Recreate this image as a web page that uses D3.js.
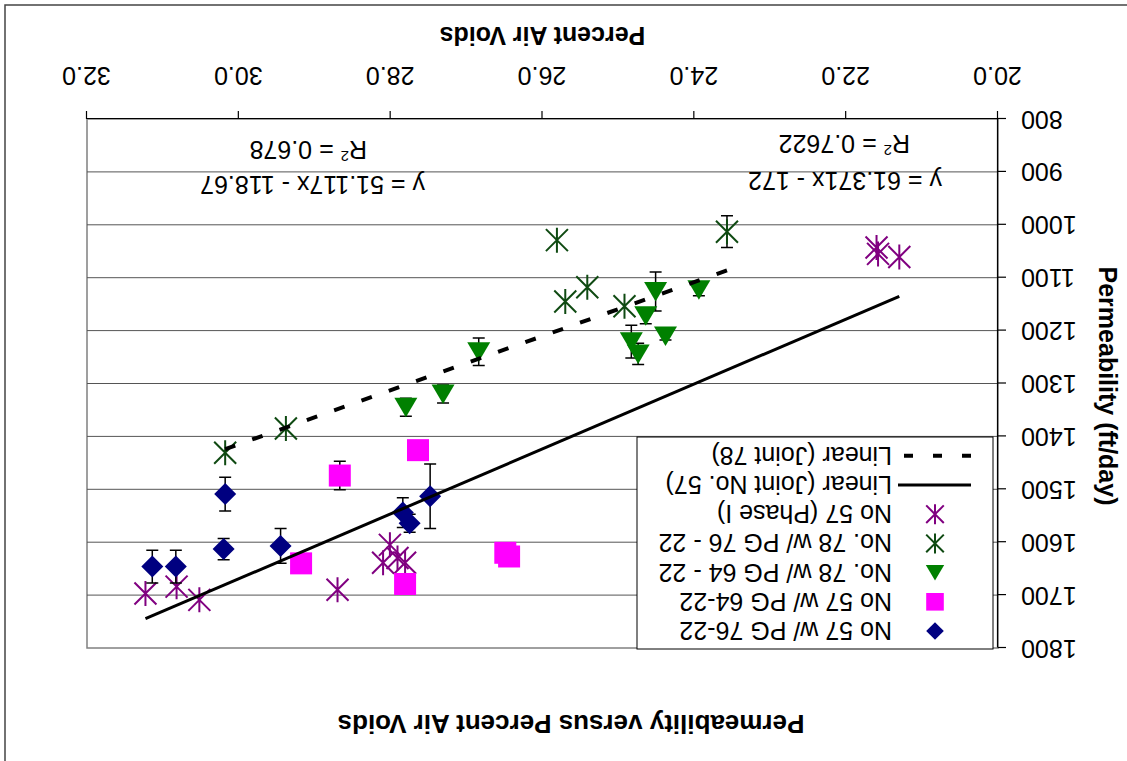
<!DOCTYPE html>
<html><head><meta charset="utf-8">
<script src="https://cdn.jsdelivr.net/npm/d3@7"></script>
<style>html,body{margin:0;padding:0;background:#fff;} svg{display:block;font-family:"Liberation Sans",Arial,sans-serif;}</style>
</head><body><svg id="chart" width="1127" height="761"></svg>
<script>
// ---------- data ----------
const xTicks = [20, 22, 24, 26, 28, 30, 32];
const yTicks = [800, 900, 1000, 1100, 1200, 1300, 1400, 1500, 1600, 1700, 1800];
const legendNames = ["No 57 w/ PG 76-22", "No 57 w/ PG 64-22", "No. 78 w/ PG 64 - 22", "No. 78 w/ PG 76 - 22", "No 57 (Phase I)", "Linear (Joint No. 57)", "Linear (Joint 78)"];

const s1X = [31.14, 30.83, 30.18, 30.20, 29.45, 27.84, 27.75, 27.48];
const s1Y = [1646, 1646, 1509, 1613, 1607, 1544, 1564, 1513];
const s1E = [31, 31, 32, 20, 33, 28, 17, 61];

const s2X = [29.18, 28.67, 27.64, 27.81, 26.49, 26.44];
const s2Y = [1640, 1474, 1426, 1679, 1620, 1627];
const s2E = [0, 27, 0, 0, 0, 0];

const s3X = [26.84, 24.51, 23.94, 24.64, 24.83, 24.74, 24.38, 27.80, 27.31];
const s3Y = [1240, 1126, 1123, 1172, 1221, 1244, 1210, 1345, 1320];
const s3E = [26, 37, 11, 15, 31, 20, 8, 17, 17];

const s4X = [30.18, 29.38, 25.81, 25.70, 25.41, 24.92, 23.57];
const s4Y = [1431, 1385, 1029, 1145, 1118, 1154, 1013];
const s4E = [0, 0, 0, 0, 0, 0, 30];

const s5X = [31.23, 30.82, 30.52, 28.70, 28.01, 28.10, 27.91, 27.81, 21.60, 21.58, 21.30];
const s5Y = [1697, 1684, 1709, 1690, 1605, 1639, 1630, 1639, 1043, 1055, 1061];
const s5E = [0, 0, 0, 0, 0, 0, 0, 0, 0, 0, 0];

const trend57 = [61.371, -172];     // slope, intercept (Joint No. 57)
const trend78 = [51.117, -118.67];  // slope, intercept (Joint 78)
const eqText = ["y = 61.371x - 172", "y = 51.117x - 118.67"];
const r2Text = ["0.7622", "0.678"];

// ---------- layout ----------
const W = 1127, H = 761;
const x = d3.scaleLinear().domain([20, 32]).range([129, 1040]);
const y = d3.scaleLinear().domain([800, 1800]).range([642, 113]);

const svg = d3.select("#chart");
svg.append("rect").attr("width", W).attr("height", H).attr("fill", "#fff");
const g = svg.append("g").attr("transform", `rotate(180 ${W/2} ${H/2})`);

// outer chart border
g.append("rect").attr("x", -3).attr("y", -3).attr("width", 1125).attr("height", 759)
  .attr("fill", "none").attr("stroke", "#444").attr("stroke-width", 1.5);

// plot area
g.append("rect").attr("x", x(20)).attr("y", y(1800)).attr("width", x(32) - x(20)).attr("height", y(800) - y(1800))
  .attr("fill", "#fff").attr("stroke", "#808080").attr("stroke-width", 1.5);

g.append("g").selectAll("line").data(yTicks.filter(v => v > 800 && v < 1800)).join("line")
  .attr("x1", x(20)).attr("x2", x(32)).attr("y1", d => y(d)).attr("y2", d => y(d))
  .attr("stroke", "#555").attr("stroke-width", 1);

// axes
const xAxis = d3.axisBottom(x).tickValues(xTicks).tickFormat(d3.format(".1f")).tickSize(8).tickSizeOuter(0).tickPadding(26);
const gx = g.append("g").attr("transform", `translate(0,${y(800)})`).call(xAxis);
const yAxis = d3.axisLeft(y).tickValues(yTicks).tickFormat(d3.format("d")).tickSize(8).tickSizeOuter(0).tickPadding(15);
const gy = g.append("g").attr("transform", `translate(${x(20)},0)`).call(yAxis);
[gx, gy].forEach(a => {
  a.attr("font-size", 25).attr("font-family", '"Liberation Sans", Arial, sans-serif');
  a.selectAll("path,line").attr("stroke", "#000").attr("stroke-width", 1.2);
  a.selectAll("text").attr("fill", "#000");
});

// ---------- markers ----------
function drawMarker(sel, shape, color, s) {
  if (shape === "diamond") {
    sel.append("path").attr("d", `M0,${-11*s}L${11*s},0L0,${11*s}L${-11*s},0Z`).attr("fill", color);
  } else if (shape === "square") {
    sel.append("rect").attr("x", -11*s).attr("y", -11*s).attr("width", 22*s).attr("height", 22*s).attr("fill", color);
  } else if (shape === "triangle") {
    sel.append("path").attr("d", `M${-11.5*s},${9.5*s}L${11.5*s},${9.5*s}L0,${-10*s}Z`).attr("fill", color);
  } else if (shape === "star") {
    sel.append("path").attr("d", `M${-11*s},${-11*s}L${11*s},${11*s}M${-11*s},${11*s}L${11*s},${-11*s}M0,${-12.5*s}L0,${12.5*s}`)
      .attr("stroke", color).attr("stroke-width", 2).attr("fill", "none");
  }
}

const series = [
  {xs: s1X, ys: s1Y, es: s1E, shape: "diamond", color: "#000080"},
  {xs: s2X, ys: s2Y, es: s2E, shape: "square", color: "#FF00FF"},
  {xs: s3X, ys: s3Y, es: s3E, shape: "triangle", color: "#008000"},
  {xs: s4X, ys: s4Y, es: s4E, shape: "star", color: "#0f4a12"},
  {xs: s5X, ys: s5Y, es: s5E, shape: "star", color: "#800080"}
];

// draw in reverse order
series.slice().reverse().forEach(s => {
  const pts = s.xs.map((v, i) => ({x: v, y: s.ys[i], e: s.es[i]}));
  const eg = g.append("g");
  pts.filter(p => p.e > 0).forEach(p => {
    const px = x(p.x);
    eg.append("path")
      .attr("d", `M${px},${y(p.y - p.e)}L${px},${y(p.y + p.e)}M${px-6},${y(p.y - p.e)}L${px+6},${y(p.y - p.e)}M${px-6},${y(p.y + p.e)}L${px+6},${y(p.y + p.e)}`)
      .attr("stroke", "#000").attr("stroke-width", 1.5).attr("fill", "none");
  });
  pts.forEach(p => {
    const mg = g.append("g").attr("transform", `translate(${x(p.x)},${y(p.y)})`);
    drawMarker(mg, s.shape, s.color, 1);
  });
});

// ---------- trendlines ----------
const x57 = d3.extent([...s1X, ...s2X, ...s5X]);
const x78 = d3.extent([...s3X, ...s4X]);
const tl = (xr, c) => xr.map(v => [v, c[0] * v + c[1]]);
const lineGen = d3.line().x(d => x(d[0])).y(d => y(d[1]));
g.append("path").datum(tl(x57, trend57)).attr("d", lineGen)
  .attr("stroke", "#000").attr("stroke-width", 3).attr("fill", "none");
g.append("path").datum(tl(x78, trend78)).attr("d", lineGen)
  .attr("stroke", "#000").attr("stroke-width", 4).attr("stroke-dasharray", "11,18").attr("fill", "none");

// equation labels
const eqPos = [[185, 589, 217, 626], [702, 585, 760, 620]];
eqText.forEach((t, i) => {
  g.append("text").attr("x", eqPos[i][0]).attr("y", eqPos[i][1]).attr("font-size", 25).text(t);
  const r = g.append("text").attr("x", eqPos[i][2]).attr("y", eqPos[i][3]).attr("font-size", 25);
  r.append("tspan").text("R");
  r.append("tspan").attr("font-size", 15).attr("dy", -10).text("2");
  r.append("tspan").attr("dy", 10).text(" = " + r2Text[i]);
});

// ---------- legend ----------
const lg = g.append("g");
lg.append("rect").attr("x", 134).attr("y", 112).attr("width", 356).attr("height", 212)
  .attr("fill", "#fff").attr("stroke", "#000").attr("stroke-width", 1);
legendNames.forEach((name, i) => {
  const cy = 130 + 29.2 * i;
  if (i < 5) {
    const mg = lg.append("g").attr("transform", `translate(192,${cy})`);
    drawMarker(mg, series[i].shape, series[i].color, 0.8);
  } else {
    lg.append("line").attr("x1", 156).attr("x2", i === 5 ? 229 : 224).attr("y1", cy).attr("y2", cy)
      .attr("stroke", "#000").attr("stroke-width", i === 5 ? 3 : 4)
      .attr("stroke-dasharray", i === 5 ? null : "9,20");
  }
  lg.append("text").attr("x", 235).attr("y", cy + 9).attr("font-size", 25).text(name);
});

// ---------- titles ----------
g.append("text").attr("x", 556).attr("y", 46).attr("text-anchor", "middle")
  .attr("font-size", 26).attr("font-weight", "bold").text("Permeability versus Percent Air Voids");
g.append("text").attr("x", 584.5).attr("y", 734).attr("text-anchor", "middle")
  .attr("font-size", 25).attr("font-weight", "bold").text("Percent Air Voids");
g.append("text").attr("transform", "translate(28,375) rotate(-90)").attr("text-anchor", "middle")
  .attr("font-size", 25).attr("font-weight", "bold").text("Permeability (ft/day)");
</script></body></html>
